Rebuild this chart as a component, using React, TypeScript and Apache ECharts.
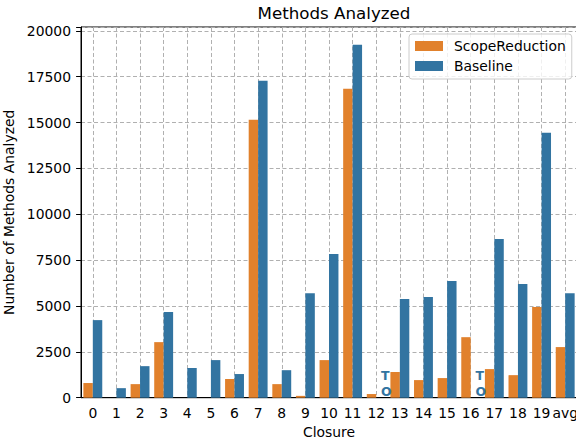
import React, { useEffect, useRef } from "react";
import * as echarts from "echarts";

const categories = ["0", "1", "2", "3", "4", "5", "6", "7", "8", "9", "10", "11", "12", "13", "14", "15", "16", "17", "18", "19", "avg"];
const scopeReduction = [800, 0, 740, 3030, 0, 0, 1020, 15150, 740, 100, 2050, 16840, 200, 1400, 960, 1070, 3300, 1560, 1230, 4940, 2760];
// null = timeout (TO)
const baseline: (number | null)[] = [4230, 520, 1720, 4670, 1620, 2050, 1290, 17280, 1500, 5700, 7840, 19250, null, 5380, 5490, 6360, null, 8650, 6200, 14440, 5700];
const timeoutLabel = "T\nO";
const seriesNames = ["ScopeReduction", "Baseline"];
const yMax = 20212.5;
const yInterval = 2500;

const FONT = "DejaVu Sans";
const ORANGE = "#e1812c";
const BLUE = "#3274a1";
const GRID_LINE = { color: "#b0b0b0", type: [4, 2.5] as number[], width: 1 };

export default function App() {
  const ref = useRef<HTMLDivElement>(null);
  useEffect(() => {
    document.body.style.margin = "0";
    if (!ref.current) return;
    const chart = echarts.init(ref.current, undefined, { renderer: "svg" });
    const baselineData = baseline.map((v) =>
      v === null
        ? {
            value: 0,
            label: {
              show: true,
              formatter: timeoutLabel,
              position: [4.7, 1],
              align: "left",
              verticalAlign: "bottom",
              color: BLUE,
              fontWeight: "bold",
              fontSize: 12.5,
              lineHeight: 15.3,
              fontFamily: FONT,
            },
          }
        : v
    );
    chart.setOption({
      animation: false,
      textStyle: { fontFamily: FONT },
      title: {
        text: "Methods Analyzed",
        left: 329,
        top: -1,
        textAlign: "center",
        textStyle: { fontSize: 16.7, fontWeight: "normal", color: "#000", fontFamily: FONT },
      },
      legend: {
        data: seriesNames,
        orient: "vertical",
        left: 409,
        top: 34,
        itemWidth: 28,
        itemHeight: 10,
        itemGap: 4,
        padding: [4, 6, 5, 6],
        icon: "rect",
        backgroundColor: "rgba(255,255,255,0.8)",
        borderColor: "#cccccc",
        borderWidth: 1,
        borderRadius: 3,
        textStyle: { fontSize: 13.9, color: "#000", lineHeight: 16, padding: [0, 0, 0, 6], fontFamily: FONT },
      },
      grid: {
        left: 81,
        right: -1,
        top: 27,
        bottom: 41.3,
        show: true,
        borderColor: "#000",
        borderWidth: 1,
        containLabel: false,
        outerBoundsMode: "none",
      },
      xAxis: {
        type: "category",
        data: categories,
        name: "Closure",
        nameLocation: "middle",
        nameGap: 26,
        nameTextStyle: { fontSize: 13.9, color: "#000", fontFamily: FONT },
        axisLine: { lineStyle: { color: "#000", width: 1 } },
        axisTick: { alignWithLabel: true, length: 4.9, lineStyle: { color: "#000" } },
        axisLabel: { fontSize: 13.9, color: "#000", margin: 8, interval: 0, fontFamily: FONT },
        splitLine: { show: true, alignWithLabel: true, lineStyle: GRID_LINE },
      },
      yAxis: {
        type: "value",
        min: 0,
        max: yMax,
        interval: yInterval,
        name: "Number of Methods Analyzed",
        nameLocation: "middle",
        nameGap: 54,
        nameTextStyle: { fontSize: 13.9, color: "#000", fontFamily: FONT },
        axisLine: { show: true, lineStyle: { color: "#000", width: 1 } },
        axisTick: { show: true, length: 4.9, lineStyle: { color: "#000" } },
        axisLabel: {
          fontSize: 13.9,
          color: "#000",
          margin: 10,
          fontFamily: FONT,
          formatter: (v: number) => (v % yInterval === 0 ? String(v) : ""),
        },
        splitLine: { show: true, lineStyle: GRID_LINE },
      },
      series: [
        {
          name: seriesNames[0],
          type: "bar",
          data: scopeReduction,
          itemStyle: { color: ORANGE },
          barGap: "0%",
          barCategoryGap: "20%",
        },
        {
          name: seriesNames[1],
          type: "bar",
          data: baselineData,
          itemStyle: { color: BLUE },
          barGap: "0%",
          barCategoryGap: "20%",
        },
      ],
    });
    return () => chart.dispose();
  }, []);
  return <div ref={ref} style={{ position: "absolute", left: 0, top: 0, width: 576, height: 439 }} />;
}
